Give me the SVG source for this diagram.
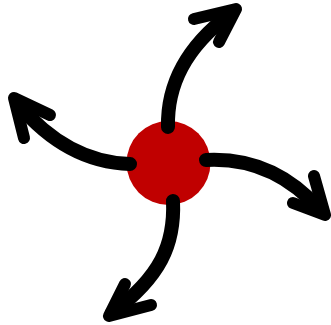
<svg xmlns="http://www.w3.org/2000/svg" width="331" height="325" viewBox="0 0 331 325">
<style>
.shaft{fill:none;stroke:#000;stroke-width:14;stroke-linecap:round;stroke-linejoin:round}
.head{fill:none;stroke:#000;stroke-width:12;stroke-linecap:round;stroke-linejoin:round}
</style>
<rect width="331" height="325" fill="#fff"/>
<g id="center">
<circle cx="168.5" cy="163" r="42" fill="#c00000"/>
</g>
<g id="connectors">
<path class="shaft" d="M168,127 C167,85 185,48 230,14"/>
<polyline class="head" points="194,19 236,9 219,42"/>
<path class="shaft" d="M130,164 C95,163 55,148 18,104"/>
<polyline class="head" points="50,115 14,98 24,138"/>
<path class="shaft" d="M206,160 C245,158 285,170 320,210"/>
<polyline class="head" points="314,176 325,215 293,203"/>
<path class="shaft" d="M173,201 C175,245 160,277 112,313"/>
<polyline class="head" points="125,284 109,316 151,305"/>
</g>
</svg>
